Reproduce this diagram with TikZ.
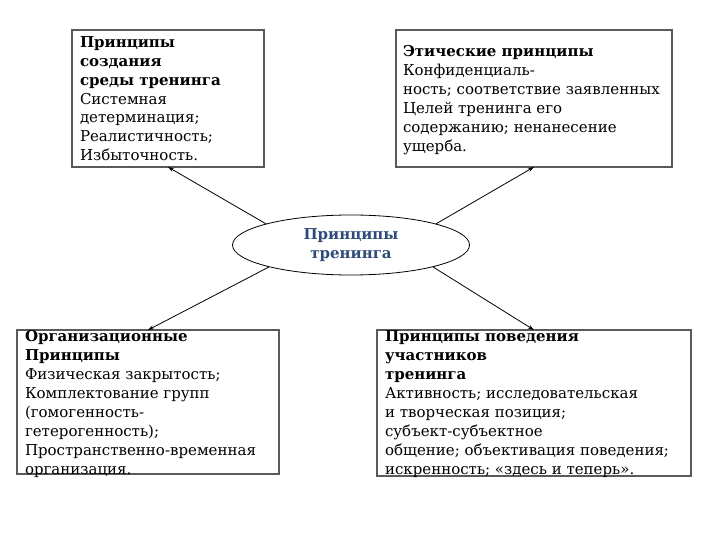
\documentclass[tikz,border=0pt]{standalone}
\usepackage{fontspec}
\setmainfont{DejaVu Serif}
\usetikzlibrary{shapes.geometric,arrows.meta}
\definecolor{boxgray}{HTML}{5A5A5A}
\definecolor{titleblue}{HTML}{2E4B7A}
\tikzset{
  box/.style={draw=boxgray, line width=1.6pt, rectangle, inner sep=0pt, outer sep=0pt, anchor=north west},
  txt/.style={inner sep=0pt, outer sep=0pt, anchor=north west, align=left, font=\fontsize{15}{19}\selectfont},
  conn/.style={line width=0.8pt, -{Stealth[length=6pt,width=4pt]}},
}
\begin{document}
\begin{tikzpicture}[x=1pt,y=-1pt]
\useasboundingbox (0,0) rectangle (720,540);
% boxes
\node[box, minimum width=192pt, minimum height=137pt] (b1) at (72,30) {};
\node[box, minimum width=276pt, minimum height=137pt] (b2) at (396,30) {};
\node[box, minimum width=262pt, minimum height=144pt] (b3) at (17,330) {};
\node[box, minimum width=314pt, minimum height=146pt] (b4) at (377,330) {};
% centre ellipse
\node[ellipse, draw, line width=0.8pt, minimum width=237pt, minimum height=60pt, inner sep=0pt,
      align=center, text=titleblue, font=\fontsize{15}{18.5}\selectfont\bfseries] (c) at (351,245)
      {Принципы\\тренинга};
% texts
\node[txt, font=\fontsize{15}{18.7}\selectfont] (t1) at (80,34.9) {\strut\textbf{Принципы}\\\textbf{создания}\\\textbf{среды тренинга}\\Системная\\детерминация;\\Реалистичность;\\Избыточность.};
\node[txt] (t2) at (403,43.4) {\strut\textbf{Этические принципы}\\Конфиденциаль-\\ность; соответствие заявленных\\Целей тренинга его\\содержанию; ненанесение\\ущерба.};
\node[txt] (t3) at (25,328.4) {\strut\textbf{Организационные}\\\textbf{Принципы}\\Физическая закрытость;\\Комплектование групп\\(гомогенность-\\гетерогенность);\\Пространственно-временная\\организация.};
\node[txt] (t4) at (385,327.7) {\strut\textbf{Принципы поведения}\\\textbf{участников}\\\textbf{тренинга}\\Активность; исследовательская\\и творческая позиция;\\субъект-субъектное\\общение; объективация поведения;\\искренность; «здесь и теперь».};
% connectors
\draw[conn] (c.166) -- (b1.south);
\draw[conn] (c.14) -- (b2.south);
\draw[conn] (c.195) -- (b3.north);
\draw[conn] (c.345) -- (b4.north);
\end{tikzpicture}
\end{document}
